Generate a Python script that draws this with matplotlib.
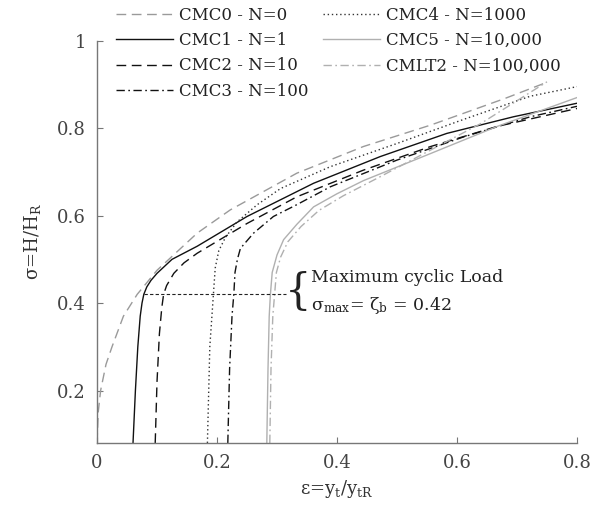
import matplotlib
matplotlib.use("Agg")
import matplotlib.pyplot as plt

plt.rcParams['font.family'] = ['DejaVu Serif']
plt.rcParams['mathtext.fontset'] = 'dejavuserif'

# ---- data ----
cmc0_x = [0.0, 0.002, 0.006, 0.015, 0.025, 0.044, 0.067, 0.10, 0.167, 0.222, 0.333, 0.444, 0.556, 0.611, 0.68, 0.75]
cmc0_y = [0.08, 0.15, 0.20, 0.26, 0.30, 0.37, 0.42, 0.475, 0.56, 0.613, 0.697, 0.758, 0.807, 0.834, 0.868, 0.905]

cmc1_x = [0.060, 0.064, 0.068, 0.072, 0.075, 0.078, 0.083, 0.090, 0.100, 0.125, 0.167, 0.25, 0.361, 0.472, 0.583, 0.694, 0.80]
cmc1_y = [0.08, 0.20, 0.30, 0.37, 0.40, 0.42, 0.437, 0.452, 0.468, 0.50, 0.53, 0.598, 0.674, 0.735, 0.788, 0.826, 0.857]

cmc2_x = [0.097, 0.100, 0.104, 0.108, 0.111, 0.116, 0.128, 0.145, 0.167, 0.25, 0.333, 0.444, 0.556, 0.667, 0.80]
cmc2_y = [0.08, 0.22, 0.33, 0.39, 0.42, 0.44, 0.468, 0.492, 0.514, 0.582, 0.643, 0.704, 0.758, 0.804, 0.845]

cmc3_x = [0.218, 0.221, 0.225, 0.228, 0.230, 0.234, 0.239, 0.261, 0.294, 0.333, 0.389, 0.50, 0.611, 0.722, 0.80]
cmc3_y = [0.08, 0.25, 0.37, 0.42, 0.47, 0.50, 0.525, 0.56, 0.598, 0.625, 0.666, 0.727, 0.78, 0.826, 0.85]

cmc4_x = [0.184, 0.188, 0.194, 0.197, 0.203, 0.214, 0.233, 0.267, 0.306, 0.389, 0.50, 0.611, 0.722, 0.80]
cmc4_y = [0.08, 0.30, 0.42, 0.48, 0.52, 0.55, 0.585, 0.625, 0.662, 0.712, 0.765, 0.82, 0.873, 0.895]

cmc5_x = [0.283, 0.285, 0.287, 0.289, 0.292, 0.300, 0.311, 0.333, 0.361, 0.40, 0.444, 0.556, 0.667, 0.80]
cmc5_y = [0.08, 0.25, 0.37, 0.42, 0.47, 0.51, 0.545, 0.58, 0.62, 0.65, 0.68, 0.742, 0.804, 0.87]

cmlt2_x = [0.288, 0.290, 0.293, 0.296, 0.299, 0.306, 0.318, 0.340, 0.370, 0.41, 0.472, 0.556, 0.639, 0.75]
cmlt2_y = [0.08, 0.25, 0.37, 0.42, 0.47, 0.505, 0.54, 0.575, 0.612, 0.645, 0.689, 0.75, 0.81, 0.906]

labels = ["CMC0 - N=0", "CMC1 - N=1", "CMC2 - N=10", "CMC3 - N=100",
          "CMC4 - N=1000", "CMC5 - N=10,000", "CMLT2 - N=100,000"]

sigma_max = 0.42
line_x0 = 0.078
line_x1 = 0.315

x_ticks = [0, 0.2, 0.4, 0.6, 0.8]
y_ticks = [0.2, 0.4, 0.6, 0.8, 1.0]
y_tick_labels = ["0.2", "0.4", "0.6", "0.8", "1"]
x_tick_labels = ["0", "0.2", "0.4", "0.6", "0.8"]

# ---- figure ----
fig = plt.figure(figsize=(5.93, 5.24), dpi=100)
ax = fig.add_axes([0.1636, 0.1546, 0.8094, 0.7677])

gray = "#9a9a9a"
lgray = "#b0b0b0"
lw = 1.0
h0, = ax.plot(cmc0_x, cmc0_y, color=gray, lw=lw, dashes=(7, 4))
h1, = ax.plot(cmc1_x, cmc1_y, color="#111111", lw=lw)
h2, = ax.plot(cmc2_x, cmc2_y, color="#111111", lw=lw, dashes=(7, 4))
h3, = ax.plot(cmc3_x, cmc3_y, color="#111111", lw=lw, dashes=(6, 2.5, 1.2, 2.5))
h4, = ax.plot(cmc4_x, cmc4_y, color="#333333", lw=lw, dashes=(1, 2))
h5, = ax.plot(cmc5_x, cmc5_y, color=lgray, lw=lw)
h6, = ax.plot(cmlt2_x, cmlt2_y, color=lgray, lw=lw, dashes=(6, 2.5, 1.2, 2.5))

ax.plot([line_x0, line_x1], [sigma_max, sigma_max], color="#222222", lw=0.8, dashes=(3, 2))

ax.text(0.313, 0.425, "{", fontsize=30, va="center", ha="left", color="#222222",
        family="DejaVu Serif", fontweight="light")
ax.text(0.356, 0.458, "Maximum cyclic Load", fontsize=12.5, va="center", ha="left", color="#222222")
ax.text(0.356, 0.395, r"σ$_{\mathrm{max}}$= ζ$_{\mathrm{b}}$ = 0.42", fontsize=12.5,
        va="center", ha="left", color="#222222")

ax.set_xlim(0, 0.8)
ax.set_ylim(0.08, 1.0)
ax.set_xticks(x_ticks)
ax.set_xticklabels(x_tick_labels)
ax.set_yticks(y_ticks)
ax.set_yticklabels(y_tick_labels)
ax.tick_params(direction="in", length=4, width=0.8, colors="#777777", labelcolor="#444444",
               labelsize=13, pad=8)
for s in ["top", "right"]:
    ax.spines[s].set_visible(False)
for s in ["left", "bottom"]:
    ax.spines[s].set_color("#777777")
    ax.spines[s].set_linewidth(1.0)

ax.set_xlabel(r"ε=y$_{\mathrm{t}}$/y$_{\mathrm{tR}}$", fontsize=13, color="#333333", labelpad=4)
ax.set_ylabel(r"σ=H/H$_{\mathrm{R}}$", fontsize=13, color="#333333", labelpad=10)

handles = [h0, h1, h2, h3, h4, h5, h6]
leg = fig.legend(handles, labels, loc="upper left", bbox_to_anchor=(0.185, 1.0),
                 ncol=2, frameon=False, fontsize=12, handlelength=3.4, handletextpad=0.35,
                 columnspacing=0.9, labelspacing=0.5, borderaxespad=0)
for t in leg.get_texts():
    t.set_color("#222222")

fig.savefig("out.png", dpi=100)
